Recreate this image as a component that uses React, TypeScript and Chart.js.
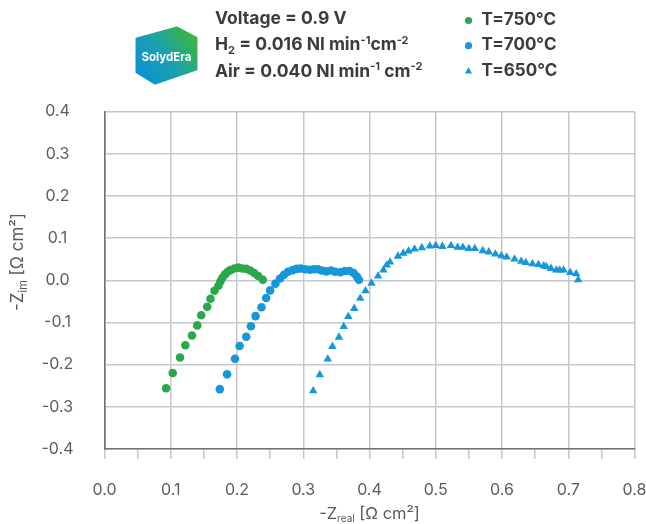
import React, { useEffect, useRef } from 'react';
import { Chart, registerables } from 'chart.js';
import { drawPoint } from 'chart.js/helpers';

Chart.register(...registerables);

const FONT = 'Inter, "Noto Sans", sans-serif';
const GREEN = '#2ba84a';
const BLUE = '#1597d9';

// T = 750 °C
const x750 = [0.093, 0.103, 0.114, 0.122, 0.132, 0.140, 0.146, 0.155, 0.160, 0.166, 0.172, 0.175, 0.178, 0.182, 0.186, 0.190, 0.196, 0.202, 0.208, 0.214, 0.220, 0.226, 0.232, 0.239];
const y750 = [-0.256, -0.220, -0.183, -0.154, -0.131, -0.107, -0.083, -0.063, -0.044, -0.025, -0.013, -0.003, 0.006, 0.014, 0.020, 0.024, 0.028, 0.030, 0.028, 0.027, 0.023, 0.017, 0.010, 0.001];

// T = 700 °C
const x700 = [0.174, 0.185, 0.197, 0.204, 0.214, 0.221, 0.228, 0.237, 0.244, 0.250, 0.258, 0.265, 0.271, 0.277, 0.284, 0.290, 0.296, 0.303, 0.310, 0.316, 0.322, 0.328, 0.335, 0.342, 0.348, 0.356, 0.363, 0.370, 0.376, 0.381, 0.384];
const y700 = [-0.258, -0.223, -0.186, -0.156, -0.134, -0.109, -0.085, -0.064, -0.042, -0.024, -0.008, 0.004, 0.013, 0.020, 0.024, 0.027, 0.028, 0.026, 0.025, 0.026, 0.026, 0.023, 0.021, 0.023, 0.020, 0.019, 0.022, 0.022, 0.017, 0.009, 0.001];

// T = 650 °C
const x650 = [0.315, 0.325, 0.337, 0.344, 0.354, 0.361, 0.368, 0.377, 0.386, 0.394, 0.403, 0.413, 0.421, 0.426, 0.431, 0.443, 0.451, 0.459, 0.468, 0.479, 0.491, 0.500, 0.510, 0.523, 0.533, 0.541, 0.550, 0.559, 0.571, 0.580, 0.590, 0.599, 0.607, 0.619, 0.629, 0.636, 0.646, 0.655, 0.663, 0.667, 0.674, 0.682, 0.687, 0.693, 0.703, 0.712, 0.715];
const y650 = [-0.262, -0.224, -0.187, -0.157, -0.135, -0.110, -0.086, -0.067, -0.043, -0.025, -0.007, 0.010, 0.024, 0.036, 0.043, 0.057, 0.064, 0.069, 0.074, 0.077, 0.081, 0.082, 0.080, 0.082, 0.078, 0.078, 0.075, 0.075, 0.070, 0.067, 0.062, 0.058, 0.055, 0.050, 0.045, 0.042, 0.039, 0.037, 0.034, 0.032, 0.028, 0.024, 0.024, 0.024, 0.018, 0.015, 0.001];

const seriesLabels = ['T=750°C', 'T=700°C', 'T=650°C'];

const xMin = 0.0;
const xMax = 0.8;
const yMin = -0.4;
const yMax = 0.4;

const xTitleMain = '-Z';
const xTitleSub = 'real';
const yTitleMain = '-Z';
const yTitleSub = 'im';
const titleUnit = ' [Ω cm²]';

const toPoints = (xs: number[], ys: number[]) => xs.map((x, i) => ({ x, y: ys[i] }));

const fmt = (v: number) => (Math.abs(v) < 1e-9 ? '0.0' : v.toFixed(1));

function drawSubTitle(ctx: CanvasRenderingContext2D, main: string, sub: string, rest: string, cx: number, cy: number, rot: number, size: number) {
  ctx.save();
  ctx.translate(cx, cy);
  ctx.rotate(rot);
  ctx.fillStyle = '#555a5e';
  ctx.textBaseline = 'alphabetic';
  ctx.textAlign = 'left';
  const big = `400 ${size}px ${FONT}`;
  const small = `400 ${Math.round(size * 0.62)}px ${FONT}`;
  ctx.font = big;
  const w1 = ctx.measureText(main).width;
  const w3 = ctx.measureText(rest).width;
  ctx.font = small;
  const w2 = ctx.measureText(sub).width;
  const total = w1 + w2 + w3;
  let x = -total / 2;
  const base = size * 0.37;
  ctx.font = big;
  ctx.fillText(main, x, base);
  x += w1;
  ctx.font = small;
  ctx.fillText(sub, x, base + size * 0.2);
  x += w2;
  ctx.font = big;
  ctx.fillText(rest, x, base);
  ctx.restore();
}

const titlesPlugin = {
  id: 'axisTitles',
  afterDraw(chart: any) {
    const ctx = chart.ctx as CanvasRenderingContext2D;
    const ca = chart.chartArea;
    drawSubTitle(ctx, xTitleMain, xTitleSub, titleUnit, (ca.left + ca.right) / 2, 513, 0, 16.5);
    drawSubTitle(ctx, yTitleMain, yTitleSub, titleUnit, 17, 262, -Math.PI / 2, 17);
  },
};

const legendPlugin = {
  id: 'customLegend',
  afterDraw(chart: any) {
    const ctx = chart.ctx as CanvasRenderingContext2D;
    const rows = [20.5, 45.7, 71.5];
    const radii = [3.6, 3.6, 4.2];
    chart.data.datasets.forEach((ds: any, i: number) => {
      ctx.save();
      ctx.fillStyle = ds.backgroundColor;
      drawPoint(ctx, { pointStyle: ds.pointStyle, radius: radii[i], rotation: 0, borderWidth: 0 } as any, 468.5, rows[i]);
      ctx.font = `700 17px ${FONT}`;
      ctx.fillStyle = '#3a3d40';
      ctx.textBaseline = 'middle';
      ctx.textAlign = 'left';
      ctx.fillText(ds.label, 481.5, rows[i] - 0.5);
      ctx.restore();
    });
  },
};

export default function App() {
  const ref = useRef<HTMLCanvasElement | null>(null);

  useEffect(() => {
    document.body.style.margin = '0';
    const canvas = ref.current;
    if (!canvas) return;
    const chart = new Chart(canvas, {
      type: 'scatter',
      data: {
        datasets: [
          { label: seriesLabels[0], data: toPoints(x750, y750), pointStyle: 'circle', pointRadius: 4.3, backgroundColor: GREEN, borderColor: GREEN, borderWidth: 0 },
          { label: seriesLabels[1], data: toPoints(x700, y700), pointStyle: 'circle', pointRadius: 4.3, backgroundColor: BLUE, borderColor: BLUE, borderWidth: 0 },
          { label: seriesLabels[2], data: toPoints(x650, y650), pointStyle: 'triangle', pointRadius: 4.9, backgroundColor: BLUE, borderColor: BLUE, borderWidth: 0 },
        ],
      },
      options: {
        animation: false,
        responsive: false,
        devicePixelRatio: 1,
        layout: { padding: { top: 111.5, right: 11.5, left: 0, bottom: 0 } },
        plugins: { legend: { display: false }, tooltip: { enabled: false }, title: { display: false } },
        scales: {
          x: {
            type: 'linear',
            min: xMin,
            max: xMax,
            afterFit: (s: any) => { s.height = 75; s.paddingLeft = 0; s.paddingRight = 0; },
            ticks: {
              stepSize: 0.05,
              autoSkip: false,
              maxRotation: 0,
              padding: 22,
              color: '#5a5e62',
              font: { family: FONT, size: 16 },
              callback: (v: any) => (Math.round(Number(v) * 100) % 10 === 0 ? fmt(Number(v)) : ''),
            },
            grid: {
              color: (c: any) => (Math.round(c.tick.value * 100) % 10 === 0 ? '#c4c8cc' : 'rgba(0,0,0,0)'),
              tickColor: '#c4c8cc',
              lineWidth: 1.5,
              drawTicks: true,
              tickLength: 10,
            },
            border: { color: '#6f7479', width: 1.6 },
          },
          y: {
            type: 'linear',
            min: yMin,
            max: yMax,
            afterFit: (s: any) => { s.width = 104.5; s.paddingTop = 0; s.paddingBottom = 0; },
            ticks: {
              stepSize: 0.1,
              crossAlign: 'center',
              padding: 31,
              color: '#5a5e62',
              font: { family: FONT, size: 16 },
              callback: (v: any) => fmt(Number(v)),
            },
            grid: { color: '#c4c8cc', lineWidth: 1.5, drawTicks: false },
            border: { color: '#6f7479', width: 1.6 },
          },
        },
      },
      plugins: [titlesPlugin, legendPlugin],
    } as any);
    return () => chart.destroy();
  }, []);

  const lineStyle: React.CSSProperties = {
    position: 'absolute',
    left: 215,
    fontFamily: FONT,
    fontWeight: 700,
    fontSize: 17.5,
    lineHeight: '20px',
    color: '#3a3d40',
    whiteSpace: 'nowrap',
  };
  const supStyle: React.CSSProperties = { fontSize: 11, position: 'relative', top: -6.5 };
  const subStyle: React.CSSProperties = { fontSize: 11, position: 'relative', top: 4 };

  return (
    <div style={{ position: 'relative', width: 646, height: 524, background: '#ffffff', overflow: 'hidden' }}>
      <canvas ref={ref} width={646} height={524} style={{ position: 'absolute', left: 0, top: 0, width: 646, height: 524 }} />
      <svg width={70} height={64} viewBox="0 0 70 64" style={{ position: 'absolute', left: 132, top: 24 }}>
        <defs>
          <linearGradient id="lg" x1="0" y1="1" x2="1" y2="0.3">
            <stop offset="0" stopColor="#0a8ed8" />
            <stop offset="0.55" stopColor="#1aa0b0" />
            <stop offset="1" stopColor="#3bb34a" />
          </linearGradient>
        </defs>
        <path d="M5 15 L45 4 L64 14 L64 45 L23 59 L5 48 Z" fill="url(#lg)" stroke="url(#lg)" strokeWidth={3} strokeLinejoin="round" />
        <text x={34.5} y={36.5} textAnchor="middle" fill="#ffffff" fontFamily={FONT} fontWeight={700} fontSize={11.5}>SolydEra</text>
      </svg>
      <div style={{ ...lineStyle, top: 8 }}>Voltage = 0.9 V</div>
      <div style={{ ...lineStyle, top: 34 }}>
        H<span style={subStyle}>2</span> = 0.016 Nl min<span style={supStyle}>-1</span>cm<span style={supStyle}>-2</span>
      </div>
      <div style={{ ...lineStyle, top: 60.5 }}>
        Air = 0.040 Nl min<span style={supStyle}>-1</span> cm<span style={supStyle}>-2</span>
      </div>
    </div>
  );
}
